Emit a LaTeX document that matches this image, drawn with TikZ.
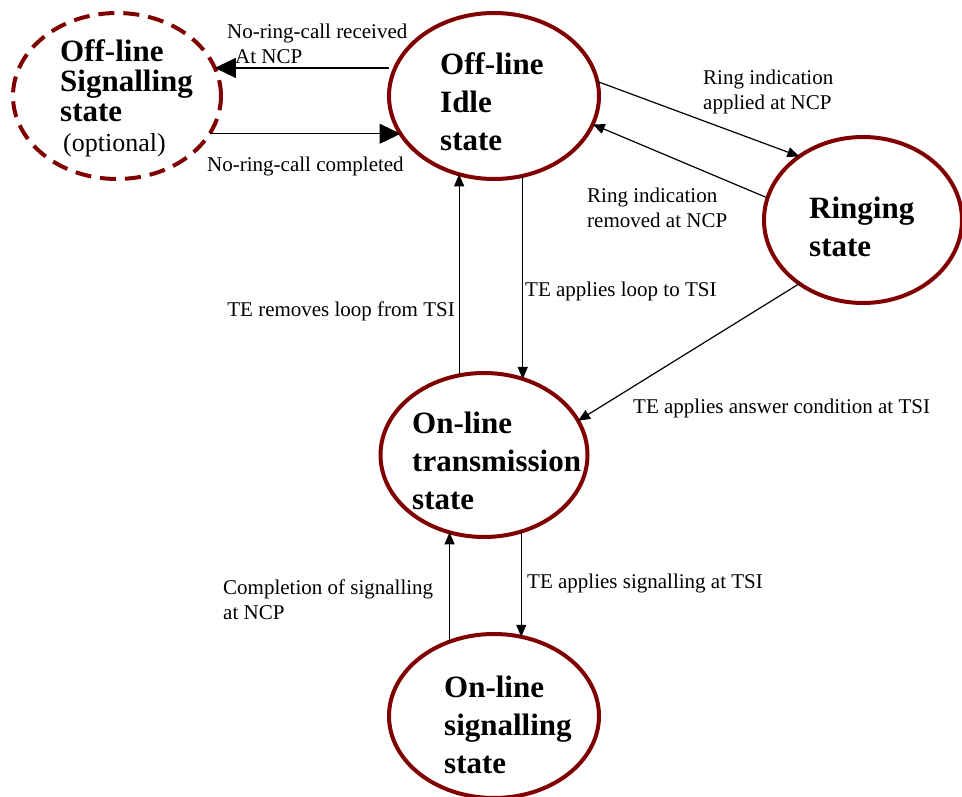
\documentclass[tikz,border=0pt]{standalone}
\usepackage{fontspec}
\setmainfont{Liberation Serif}
\usetikzlibrary{arrows.meta,shapes.geometric}
\definecolor{darkred}{RGB}{128,0,0}
\begin{document}
\begin{tikzpicture}[x=1pt,y=-1pt,
		st/.style={draw=darkred,line width=4pt,ellipse,outer sep=0pt,inner sep=0pt},
		stxt/.style={font=\fontsize{31}{38}\selectfont\bfseries,align=left,anchor=west,inner sep=0pt},
		lbl/.style={font=\fontsize{21}{25}\selectfont,align=left,anchor=west,inner sep=0pt},
		arr/.style={line width=1.2pt,-{Triangle[length=12pt,width=10pt]}},
		bigarr/.style={line width=1.3pt,-{Triangle[length=21pt,width=20pt]}}]
		\useasboundingbox (0,0) rectangle (962,797);
		\node[st,dash pattern=on 16pt off 9pt,minimum width=208,minimum height=166] (OS) at (117,96) {};
		\node[st,minimum width=210,minimum height=166] (OI) at (494,96) {};
		\node[st,minimum width=198,minimum height=166] (RS) at (863,220) {};
		\node[st,minimum width=207,minimum height=164] (TS) at (484,455) {};
		\node[st,minimum width=210,minimum height=164] (SS) at (494,716) {};
		%state names
		\node[stxt,font=\fontsize{31}{30}\selectfont\bfseries] (OStxt) at (60,98) {Off-line\\Signalling\\state\\{\mdseries\fontsize{26}{29}\selectfont\hspace*{3pt}(optional)}};
		\node[stxt] (OItxt) at (440,102) {Off-line\\Idle\\state};
		\node[stxt] (RStxt) at (809,227) {Ringing\\state};
		\node[stxt] (TStxt) at (412,461) {On-line\\transmission\\state};
		\node[stxt] (SStxt) at (444,725) {On-line\\signalling\\state};
		\draw[bigarr] (OI.west |- OS.16.5) -- (OS.16.5);
		\draw[bigarr] (OS.-22.7 |- OI.202.5) -- (OI.202.5);
		\draw[arr] (OI.8.7) -- (RS.135);
		\draw[arr] (RS.167) -- (OI.-16.6);
		\draw[arr] (TS.63.1 |- OI.-70.3) -- (TS.63.1);
		\draw[arr] (OI.246.1 |- TS.107.2) -- (OI.246.1);
		\draw[arr] (RS.225.5) -- (TS.20);
		\draw[arr] (SS.71.4 |- TS.-64.5) -- (SS.71.4);
		\draw[arr] (TS.246.6 |- SS.120.2) -- (TS.246.6);
		\node[lbl] (Lrecv) at (227,44) {No-ring-call received\\\hspace*{8pt}At NCP};
		\node[lbl] (Lcomp) at (207,166) {No-ring-call completed};
		\node[lbl] (Lapp) at (703,92) {Ring indication\\applied at NCP};
		\node[lbl] (Lrem) at (587,208) {Ring indication\\removed at NCP};
		\node[lbl] (Lloop) at (525,291) {TE applies loop to TSI};
		\node[lbl,anchor=east] (Lunloop) at (455,311) {TE removes loop from TSI};
		\node[lbl] (Lans) at (633,408) {TE applies answer condition at TSI};
		\node[lbl] (Lsig) at (527,583) {TE applies signalling at TSI};
		\node[lbl] (Lcompl) at (223,600) {Completion of signalling\\at NCP};
	\end{tikzpicture}
\end{document}
